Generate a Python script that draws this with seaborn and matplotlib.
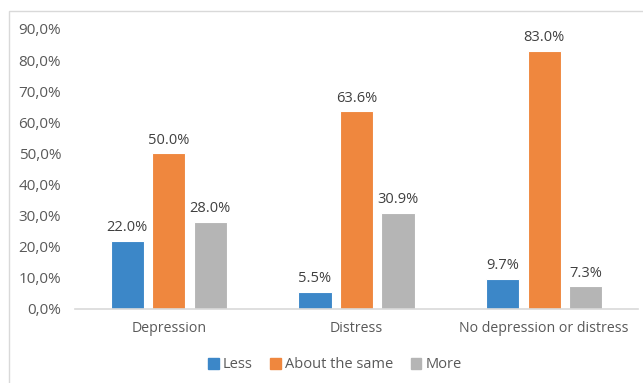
import pandas as pd
import numpy as np
import matplotlib.pyplot as plt
import matplotlib.patches as mpatches
import seaborn as sns

# данные
categories = ["Depression", "Distress", "No depression or distress"]
groups = ["Less", "About the same", "More"]
less = [22.0, 5.5, 9.7]
same = [50.0, 63.6, 83.0]
more = [28.0, 30.9, 7.3]
colors = ["#3C87C8", "#EF873E", "#B5B5B5"]

df = pd.DataFrame({
    "category": categories * 3,
    "group": [g for g in groups for _ in categories],
    "value": less + same + more,
})

sns.set_style("white")
plt.rcParams["font.family"] = ["Open Sans", "DejaVu Sans"]
text_col = "#595959"

fig = plt.figure(figsize=(6.43, 3.83), dpi=100)
ax = fig.add_axes([75 / 643, 74 / 383, 563 / 643, 280 / 383])

sns.barplot(data=df, x="category", y="value", hue="group", hue_order=groups,
            palette=colors, saturation=1, width=0.664, gap=0.2, ax=ax, legend=False,
            edgecolor="white", linewidth=0.8)

# подписи значений
for cont in ax.containers:
    ax.bar_label(cont, labels=[f"{v:.1f}%" for v in cont.datavalues],
                 padding=4, fontsize=10.5, color="#404040")

ax.set_ylim(0, 90)
ax.set_yticks(np.arange(0, 91, 10))
ax.set_yticklabels([f"{v},0%" for v in range(0, 91, 10)])
ax.set_xlim(-0.5, 2.5)
ax.tick_params(axis="y", length=0, pad=10, labelsize=11, labelcolor=text_col)
ax.tick_params(axis="x", length=0, pad=9, labelsize=10.2, labelcolor=text_col)
ax.set_xlabel("")
ax.set_ylabel("")
for s in ["top", "right", "left"]:
    ax.spines[s].set_visible(False)
ax.spines["bottom"].set_color("#D9D9D9")
ax.spines["bottom"].set_linewidth(1.2)

# легенда
handles = [mpatches.Patch(color=c, label=g) for c, g in zip(colors, groups)]
fig.legend(handles=handles, loc="center", bbox_to_anchor=(335 / 643, 18 / 383),
           ncol=3, frameon=False, fontsize=10.5, labelcolor=text_col,
           handlelength=0.7, handleheight=0.7, handletextpad=0.3, columnspacing=1.2)

# рамка диаграммы
fig.patches.append(mpatches.Rectangle((9 / 643, -0.01), 1.0, (383 - 11) / 383 + 0.01,
                                      transform=fig.transFigure, fill=False,
                                      edgecolor="#D9D9D9", linewidth=1))

fig.savefig("out.png", dpi=100)
